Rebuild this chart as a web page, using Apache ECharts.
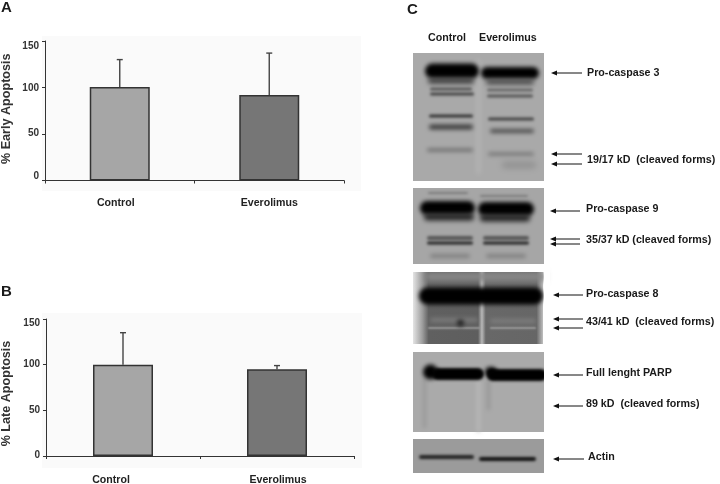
<!DOCTYPE html>
<html><head><meta charset="utf-8">
<style>html,body{margin:0;padding:0;background:#fff}#c{width:720px;height:484px}</style>
<script src="https://cdn.jsdelivr.net/npm/echarts@6/dist/echarts.min.js"></script>
</head><body><div id="c"></div>
<script>
const categories = ['Control', 'Everolimus'];
const yTicks = [0, 50, 100, 150];
const earlyValues = [100.5, 92];
const earlyUpper = [130, 137];
const lateValues = [100, 95];
const lateUpper = [135, 99];

const FONT = '"Liberation Sans", Arial, sans-serif';
const barColors = ['#a6a6a6', '#767676'];
const boldStyle = (size, color) => ({ fontFamily: FONT, fontWeight: 'bold', fontSize: size, color });

function yLabelRich(shifts) {
  const r = {};
  yTicks.forEach((t, i) => {
    const s = shifts[i];
    r['t' + t] = Object.assign(boldStyle(10, '#333'), {
      padding: s > 0 ? [0, 0, s * 2, 0] : [-s * 2, 0, 0, 0]
    });
  });
  return r;
}
function errSeries(idx, upper, values) {
  return {
    type: 'custom', xAxisIndex: idx, yAxisIndex: idx, z: 1, silent: true,
    data: upper.map((u, i) => [i, values[i], u]),
    encode: { x: 0, y: [1, 2] },
    renderItem(p, api) {
      const a = api.coord([api.value(0), api.value(1)]);
      const b = api.coord([api.value(0), api.value(2)]);
      const st = { stroke: '#444', lineWidth: 1.4, fill: 'none' };
      return { type: 'group', children: [
        { type: 'line', shape: { x1: a[0], y1: a[1], x2: b[0], y2: b[1] }, style: st },
        { type: 'line', shape: { x1: b[0] - 3, y1: b[1], x2: b[0] + 3, y2: b[1] }, style: st }
      ]};
    }
  };
}
function barSeries(idx, values) {
  return {
    type: 'bar', xAxisIndex: idx, yAxisIndex: idx, barWidth: 60, z: 2, silent: true,
    data: values.map((v, i) => ({ value: v, itemStyle: { color: barColors[i], borderColor: '#333', borderWidth: 1.5 } }))
  };
}
function xAxis(idx, shifts) {
  return {
    type: 'category', gridIndex: idx, data: categories,
    axisLine: { lineStyle: { color: '#333', width: 1 } },
    axisTick: { show: true, length: 3, lineStyle: { color: '#333' } },
    axisLabel: {
      margin: idx === 0 ? 17 : 19,
      formatter: (v, i) => `{c${i}|${v}}`,
      rich: {
        c0: Object.assign(boldStyle(10.6, '#222'), { padding: shifts[0] }),
        c1: Object.assign(boldStyle(10.6, '#222'), { padding: shifts[1] })
      }
    }
  };
}
function yAxis(idx, name, gap, shifts, namePad) {
  return {
    type: 'value', gridIndex: idx, min: 0, max: 150, interval: 50,
    name, nameLocation: 'middle', nameGap: gap, nameRotate: 90,
    nameTextStyle: Object.assign(boldStyle(12.6, '#333'), { padding: namePad }),
    axisLine: { show: true, lineStyle: { color: '#333', width: 1 } },
    axisTick: { show: true, length: 3, lineStyle: { color: '#333' } },
    splitLine: { show: false },
    axisLabel: { margin: 6, formatter: v => `{t${v}|${v}}`, rich: yLabelRich(shifts) }
  };
}

/* ---------- decoration: western blot panels, arrows, labels ---------- */
const els = [];
const OFF = 3000;
const rect = (x, y, w, h, fill, z) => els.push({ type: 'rect', z: z || 1, silent: true, shape: { x, y, width: w, height: h }, style: { fill } });
function band(x, y, w, h, c, blur) {
  els.push({ type: 'rect', z: 5, silent: true, shape: { x: x - OFF, y: y - h / 2, width: w, height: h, r: h / 2 },
    style: { fill: c, shadowBlur: blur == null ? 3 : blur, shadowColor: c, shadowOffsetX: OFF } });
}
function vband(x, y, w, h, c, blur) {
  els.push({ type: 'rect', z: 3, silent: true, shape: { x: x - OFF, y, width: w, height: h },
    style: { fill: c, shadowBlur: blur, shadowColor: c, shadowOffsetX: OFF } });
}
function text(t, x, y, size, align) {
  els.push({ type: 'text', z: 20, silent: true, x, y,
    style: { text: t, font: 'bold ' + size + 'px ' + FONT, fill: '#1a1a1a', textVerticalAlign: 'middle', textAlign: align || 'left' } });
}
function arrow(x1, x2, y) {
  els.push({ type: 'line', z: 20, silent: true, shape: { x1: x1 + 3, y1: y, x2, y2: y }, style: { stroke: '#111', lineWidth: 1 } });
  els.push({ type: 'polygon', z: 20, silent: true, shape: { points: [[x1, y], [x1 + 6, y - 2.5], [x1 + 6, y + 2.5]] }, style: { fill: '#111' } });
}

// plot backgrounds
rect(42, 36, 319, 155, '#fafafa', -5);
rect(42, 313, 320, 155, '#fafafa', -5);

// panel 1: pro-caspase 3
rect(413, 53, 131, 128, '#a9a9a9');
vband(477, 60, 3, 114, '#b8b8b8', 5);
band(425, 71, 54, 15, '#000', 4); band(481, 73, 58, 12, '#000', 4);
band(428, 81, 46, 5, '#333', 5); band(486, 82, 48, 5, '#444', 5);
band(430, 89, 42, 3, '#555', 3); band(487, 90, 46, 3, '#666', 3);
band(430, 94, 44, 3, '#444', 3); band(487, 96, 46, 3, '#555', 3);
band(429, 116, 44, 3, '#333', 3); band(488, 119, 46, 3, '#444', 3);
band(429, 127, 44, 5, '#3c3c3c', 4); band(490, 131, 44, 4, '#4c4c4c', 4);
band(427, 150, 46, 3, '#666', 4); band(488, 154, 46, 3, '#707070', 4);
band(502, 165, 34, 6, '#8e8e8e', 6);

// panel 2: pro-caspase 9
rect(413, 188, 131, 76, '#a6a6a6');
band(420, 208, 55, 14, '#000', 4); band(478, 209, 56, 14, '#000', 4);
band(424, 217, 50, 7, '#222', 5); band(480, 218, 50, 7, '#222', 5);
band(428, 193, 40, 2, '#777', 3); band(480, 196, 48, 2, '#777', 3);
band(427, 238, 46, 4, '#555', 3); band(483, 238, 46, 4, '#555', 3);
band(427, 243, 46, 3, '#222', 3); band(483, 243, 46, 3, '#222', 3);
band(430, 256, 40, 4, '#808080', 4); band(486, 256, 40, 4, '#808080', 4);

// panel 3: pro-caspase 8 (horizontal fade at the edges and the light lane gap)
rect(413, 272, 130, 72, new echarts.graphic.LinearGradient(0, 0, 1, 0, [
  { offset: 0, color: '#e4e4e4' }, { offset: 0.07, color: '#a0a0a0' }, { offset: 0.12, color: '#606060' },
  { offset: 0.5, color: '#5e5e5e' }, { offset: 0.53, color: '#b8b8b8' }, { offset: 0.56, color: '#686868' },
  { offset: 0.95, color: '#666' }, { offset: 1, color: '#c0c0c0' }
]));
vband(425, 272, 120, 9, '#8a8a8a', 6);
band(419, 296, 124, 17, '#000', 4);
band(430, 320, 48, 4, '#7c7c7c', 4); band(490, 321, 46, 4, '#7e7e7e', 4);
band(428, 328, 52, 1.5, '#aaa', 2); band(490, 328, 46, 1.5, '#aaa', 2);
band(457, 323, 7, 7, '#222', 4);

// panel 4: PARP
rect(413, 352, 131, 80, '#aaa');
vband(423, 378, 3, 50, '#969696', 4);
vband(477, 380, 3, 52, '#bbb', 4);
vband(487, 380, 3, 30, '#949494', 4);
band(423, 372, 15, 15, '#000', 4); band(432, 374, 52, 12, '#000', 3);
band(487, 375, 60, 12, '#000', 3); band(485, 372, 12, 10, '#000', 4);

// panel 5: actin
rect(413, 439, 131, 34, '#9b9b9b');
band(419, 457, 55, 4, '#222', 3); band(479, 459, 57, 4, '#111', 3);

// trim soft band edges to the panel frames
rect(544, 53, 6, 420, '#fff', 6);
rect(413, 344, 131, 8, '#fff', 6);
rect(413, 264, 131, 8, '#fff', 6);

const arrows = [
  [551, 582, 73], [551, 582, 154], [551, 582, 164],
  [550, 580, 211], [550, 580, 239], [550, 580, 244],
  [553, 583, 295], [553, 583, 319], [553, 583, 328],
  [553, 583, 375], [553, 583, 406], [553, 584, 459]
];
arrows.forEach(a => arrow(a[0], a[1], a[2]));

const T = 10.7;
text('Pro-caspase 3', 587, 73, T);
text('19/17 kD  (cleaved forms)', 587, 160, T);
text('Pro-caspase 9', 586, 209, T);
text('35/37 kD (cleaved forms)', 586, 240, T);
text('Pro-caspase 8', 586, 294, T);
text('43/41 kD  (cleaved forms)', 586, 322, T);
text('Full lenght PARP', 586, 373, T);
text('89 kD  (cleaved forms)', 586, 404, T);
text('Actin', 588, 457, T);
text('Control', 428, 38, T);
text('Everolimus', 479, 38, T);
text('A', 1, 8, 15);
text('B', 1, 292, 15);
text('C', 407, 10, 15);

const chart = echarts.init(document.getElementById('c'));
chart.setOption({
  animation: false,
  backgroundColor: '#fff',
  grid: [
    { left: 45, top: 41, width: 299, height: 139.5, outerBoundsMode: 'none' },
    { left: 46, top: 319, width: 308, height: 137, outerBoundsMode: 'none' }
  ],
  xAxis: [xAxis(0, [[0, 8, 0, 0], [0, 0, 0, 0]]), xAxis(1, [[0, 24, 0, 0], [0, 0, 0, 2]])],
  yAxis: [
    yAxis(0, '% Early Apoptosis', 32, [4, 1, -1, -5], [0, 0, 0, 4]),
    yAxis(1, '% Late Apoptosis', 33, [1, 0, 0, -4], [0, 12, 0, 0])
  ],
  series: [
    errSeries(0, earlyUpper, earlyValues), barSeries(0, earlyValues),
    errSeries(1, lateUpper, lateValues), barSeries(1, lateValues)
  ],
  graphic: { elements: els }
});
</script></body></html>
